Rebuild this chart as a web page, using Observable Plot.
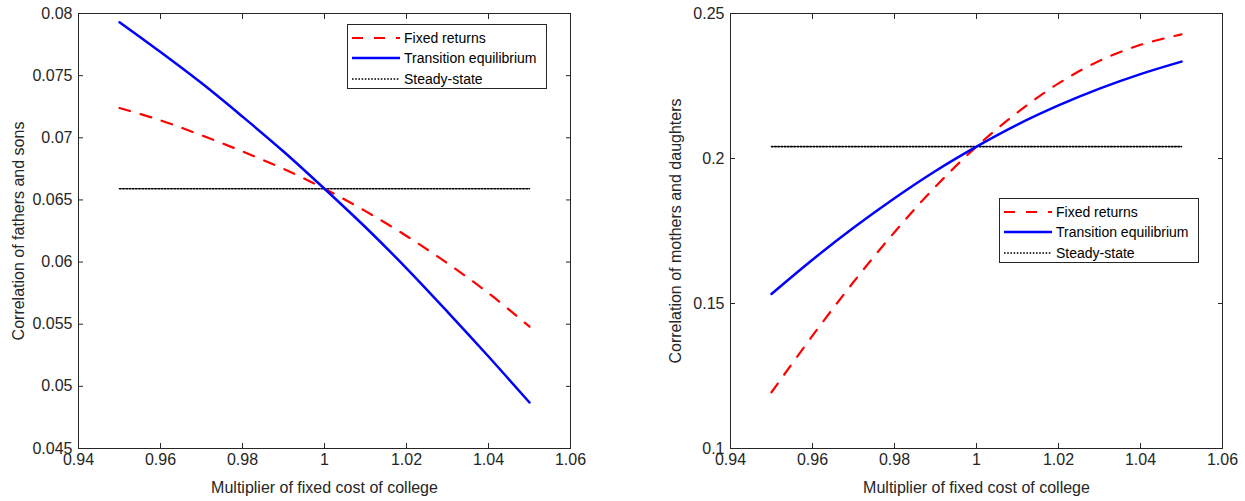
<!DOCTYPE html>
<html><head><meta charset="utf-8">
<script src="https://cdn.jsdelivr.net/npm/d3@7"></script>
<script src="https://cdn.jsdelivr.net/npm/@observablehq/plot@0.6"></script>
<style>
body{margin:0;background:#fff;font-family:"Liberation Sans",Arial,sans-serif;}
#wrap{position:relative;width:1245px;height:501px;overflow:hidden;}
.panel{position:absolute;top:0;}
.legend{position:absolute;background:#fff;border:1px solid #262626;box-sizing:border-box;font-size:14px;color:#000;}
.row{position:absolute;left:0;height:20px;display:flex;align-items:center;white-space:nowrap;}
.row svg{margin-left:4px;margin-right:4px;}
</style>
</head><body><div id="wrap"></div>
<script>
// ---- data ----
const multiplier = [0.95, 0.96, 0.97, 0.98, 0.99, 1.00, 1.01, 1.02, 1.03, 1.04, 1.05];
const fsFixed      = [0.0724, 0.0714, 0.0702, 0.0689, 0.0675, 0.0659, 0.0641, 0.0621, 0.0599, 0.0575, 0.0548];
const fsTransition = [0.0793, 0.0769, 0.0744, 0.0717, 0.0689, 0.0659, 0.0628, 0.0595, 0.0560, 0.0524, 0.0487];
const mdFixed      = [0.1194, 0.1389, 0.1574, 0.1746, 0.1903, 0.2041, 0.2159, 0.2259, 0.2337, 0.2392, 0.2428];
const mdTransition = [0.1533, 0.1651, 0.1761, 0.1863, 0.1957, 0.2041, 0.2117, 0.2183, 0.2241, 0.2291, 0.2334];
const steadyX = [0.95, 1.05];
const fsSteady = [0.0659, 0.0659];
const mdSteady = [0.2041, 0.2041];
const xTicks = [0.94, 0.96, 0.98, 1.00, 1.02, 1.04, 1.06];
const fsTicks = [0.045, 0.05, 0.055, 0.06, 0.065, 0.07, 0.075, 0.08];
const mdTicks = [0.1, 0.15, 0.2, 0.25];
const seriesNames = ["Fixed returns", "Transition equilibrium", "Steady-state"];
const xLabel = "Multiplier of fixed cost of college";
const fsLabel = "Correlation of fathers and sons";
const mdLabel = "Correlation of mothers and daughters";

const styles = [
  {stroke: "#ff0000", strokeWidth: 2.2, strokeDasharray: "11,11"},
  {stroke: "#0000ff", strokeWidth: 2.5},
  {stroke: "#000000", strokeWidth: 1.6, strokeDasharray: "1.6,1.6"}
];
const fmt = d => String(+d.toFixed(4));

function makePanel({width, mL, mR, yDomain, yTicks, yLabel, yLabelOffset, fixed, trans, steady}) {
  const fixedData = multiplier.map((x, i) => ({x, y: fixed[i]}));
  const transData = multiplier.map((x, i) => ({x, y: trans[i]}));
  const steadyData = steadyX.map((x, i) => ({x, y: steady[i]}));
  return Plot.plot({
    width, height: 501,
    marginLeft: mL, marginRight: mR, marginTop: 13, marginBottom: 53,
    style: {fontFamily: "'Liberation Sans', Arial, sans-serif", fontSize: "16px", color: "#262626", background: "transparent", overflow: "visible"},
    x: {domain: [0.94, 1.06]},
    y: {domain: yDomain},
    marks: [
      Plot.line(steadyData, {x: "x", y: "y", ...styles[2]}),
      Plot.line(fixedData, {x: "x", y: "y", curve: "catmull-rom", ...styles[0]}),
      Plot.line(transData, {x: "x", y: "y", curve: "catmull-rom", ...styles[1]}),
      Plot.frame({stroke: "#262626", strokeWidth: 1}),
      Plot.axisX({ticks: xTicks, tickSize: -5, tickPadding: 10, tickFormat: fmt, label: xLabel, labelAnchor: "center", labelArrow: "none", labelOffset: 44, stroke: "#262626", fill: "#262626"}),
      Plot.axisX({anchor: "top", ticks: xTicks, tickSize: -5, tickFormat: () => "", label: null, stroke: "#262626"}),
      Plot.axisY({ticks: yTicks, tickSize: -5, tickPadding: 11, tickFormat: fmt, label: yLabel, labelAnchor: "center", labelArrow: "none", labelOffset: yLabelOffset, stroke: "#262626", fill: "#262626"}),
      Plot.axisY({anchor: "right", ticks: yTicks, tickSize: -5, tickFormat: () => "", label: null, stroke: "#262626"})
    ]
  });
}

function makeLegend(left, top) {
  const div = document.createElement("div");
  div.className = "legend";
  div.style.left = left + "px"; div.style.top = top + "px";
  div.style.width = "200px"; div.style.height = "65px";
  seriesNames.forEach((name, i) => {
    const row = document.createElement("div");
    row.className = "row";
    row.style.top = (2.5 + i * 20.5) + "px";
    const s = styles[i];
    row.innerHTML = `<svg width="48" height="10"><line x1="0" y1="5" x2="48" y2="5" stroke="${s.stroke}" stroke-width="${s.strokeWidth}" ${s.strokeDasharray ? `stroke-dasharray="${s.strokeDasharray}"` : ""}/></svg><span>${name}</span>`;
    div.appendChild(row);
  });
  return div;
}

const wrap = document.getElementById("wrap");
const p1 = makePanel({width: 622, mL: 78, mR: 52, yDomain: [0.045, 0.08], yTicks: fsTicks, yLabel: fsLabel, yLabelOffset: 66, fixed: fsFixed, trans: fsTransition, steady: fsSteady});
p1.classList.add("panel"); p1.style.left = "0px";
const p2 = makePanel({width: 623, mL: 108, mR: 23, yDomain: [0.1, 0.25], yTicks: mdTicks, yLabel: mdLabel, yLabelOffset: 61, fixed: mdFixed, trans: mdTransition, steady: mdSteady});
p2.classList.add("panel"); p2.style.left = "622px";
wrap.appendChild(p1); wrap.appendChild(p2);
wrap.appendChild(makeLegend(347, 24));
wrap.appendChild(makeLegend(999, 198));
</script>
</body></html>
